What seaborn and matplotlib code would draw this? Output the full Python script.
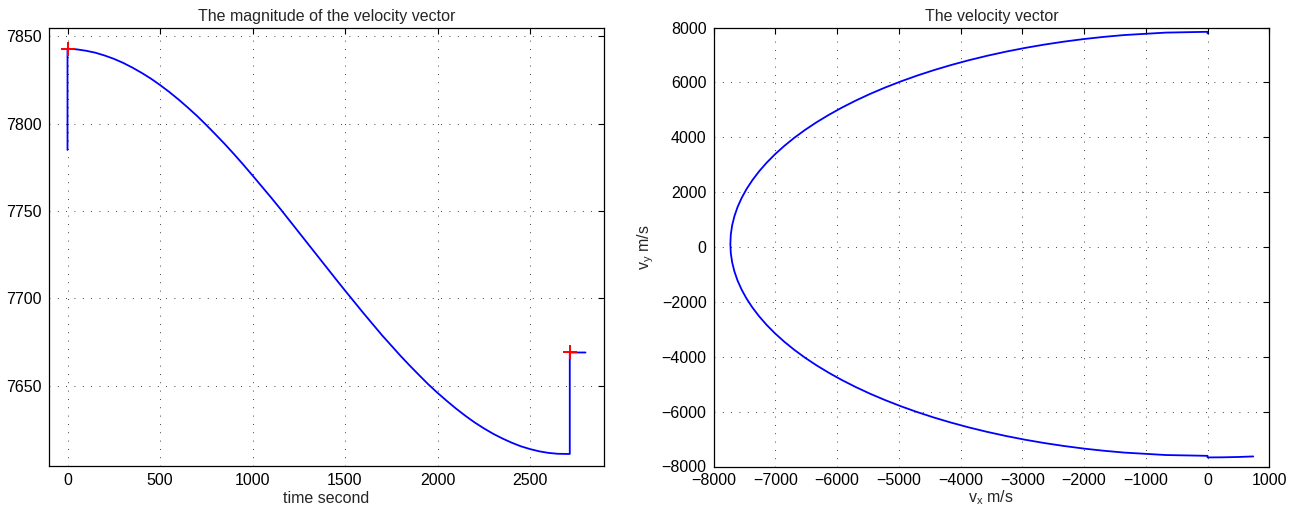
import matplotlib
matplotlib.use("Agg")
import matplotlib.pyplot as plt
import seaborn as sns
import pandas as pd

# Speed history: burn at t=0, coast from perigee to apogee, second burn
time_s = [0, 0, 50, 100, 150, 200, 250, 300, 350, 400, 450, 500, 550, 600,
          650, 700, 750, 800, 850, 900, 950, 1000, 1050, 1100, 1150, 1200,
          1250, 1300, 1350, 1400, 1450, 1500, 1550, 1600, 1650, 1700, 1750,
          1800, 1850, 1900, 1950, 2000, 2050, 2100, 2150, 2200, 2250, 2300,
          2350, 2400, 2450, 2500, 2550, 2600, 2650, 2700, 2715, 2715, 2800]
speed = [7785, 7843.0, 7842.6, 7841.8, 7840.7, 7839.1, 7837.2, 7834.9,
         7832.2, 7829.2, 7825.9, 7822.2, 7818.2, 7813.9, 7809.3, 7804.5,
         7799.3, 7793.9, 7788.4, 7782.6, 7776.6, 7770.4, 7764.1, 7757.8,
         7751.3, 7744.6, 7737.9, 7731.2, 7724.5, 7717.8, 7711.1, 7704.5,
         7698.0, 7691.5, 7685.2, 7678.9, 7673.0, 7667.1, 7661.5, 7656.1,
         7650.8, 7645.9, 7641.3, 7636.9, 7632.8, 7629.0, 7625.6, 7622.5,
         7619.8, 7617.4, 7615.3, 7613.7, 7612.4, 7611.5, 7611.0, 7610.9,
         7610.9, 7669, 7669]

# Instants of the two impulses
burn_t = [0, 2715]
burn_v = [7843, 7669]

# Velocity components along the same trajectory (hodograph)
vx = [0, 0, -674, -1342, -1672, -2000, -2324, -2643, -2957, -3266, -3568,
      -3864, -4152, -4432, -4704, -4967, -5220, -5464, -5697, -5919, -6130,
      -6330, -6517, -6692, -6854, -7003, -7139, -7261, -7369, -7464, -7544,
      -7610, -7661, -7698, -7720, -7727,
      -7720, -7698, -7661, -7610, -7544, -7464, -7369, -7261, -7139, -7003,
      -6854, -6692, -6517, -6330, -6130, -5919, -5697, -5464, -5220, -4967,
      -4704, -4432, -4152, -3864, -3568, -3266, -2957, -2643, -2324, -2000,
      -1672, -1342, -674, 0, 0, 250, 500, 740]
vy = [7785, 7843, 7814, 7726, 7660, 7580, 7485, 7377, 7255, 7119, 6970,
      6808, 6633, 6446, 6246, 6035, 5813, 5580, 5336, 5083, 4820,
      4548, 4268, 3980, 3684, 3382, 3073, 2759, 2440, 2116, 1788,
      1458, 1125, 790, 453, 116,
      -221, -558, -893, -1226, -1556, -1884, -2208, -2527, -2841, -3150,
      -3452, -3748, -4036, -4316, -4588, -4851, -5104, -5348, -5581, -5803,
      -6014, -6214, -6401, -6576, -6738, -6887, -7023, -7145, -7253, -7348,
      -7428, -7494, -7582, -7611, -7669, -7665, -7653, -7633]

mag_df = pd.DataFrame({"t": time_s, "v": speed})
hodo_df = pd.DataFrame({"vx": vx, "vy": vy})
burn_df = pd.DataFrame({"t": burn_t, "v": burn_v})

sns.set_style("white")
plt.rcParams["font.family"] = ["Liberation Sans", "DejaVu Sans"]
plt.rcParams["font.size"] = 11.5
plt.rcParams["axes.unicode_minus"] = True

fig = plt.figure(figsize=(12.97, 5.15), dpi=100)
W, H = 1297, 515
ax1 = fig.add_axes([49 / W, (H - 466) / H, 555 / W, 438.3 / H])
ax2 = fig.add_axes([713.5 / W, (H - 466.5) / H, 555.8 / W, 439 / H])

blue = (0, 0, 1)

sns.lineplot(data=mag_df, x="t", y="v", ax=ax1, sort=False, estimator=None,
             color=blue, linewidth=1.3)
sns.scatterplot(data=burn_df, x="t", y="v", ax=ax1, marker="+", color="red",
                s=90, linewidth=1.4, zorder=5)
ax1.set_xlim(-100, 2900)
ax1.set_ylim(7604, 7855)
ax1.set_xticks(range(0, 2501, 500))
ax1.set_yticks(range(7650, 7851, 50))
ax1.set_title("The magnitude of the velocity vector", fontsize=11.5, pad=5)
ax1.set_xlabel("time second", fontsize=11.5, labelpad=2)
ax1.set_ylabel("")

sns.lineplot(data=hodo_df, x="vx", y="vy", ax=ax2, sort=False, estimator=None,
             color=blue, linewidth=1.3)
ax2.set_xlim(-8000, 1000)
ax2.set_ylim(-8000, 8000)
ax2.set_xticks(range(-8000, 1001, 1000))
ax2.set_yticks(range(-8000, 8001, 2000))
ax2.set_title("The velocity vector", fontsize=11.5, pad=5)
ax2.set_xlabel(r"$\mathregular{v_x}$ m/s", fontsize=11.5, labelpad=0)
ax2.set_ylabel(r"$\mathregular{v_y}$ m/s", fontsize=11.5, labelpad=4)

for ax in (ax1, ax2):
    ax.grid(True, color="black", linestyle=(0, (1, 9)), linewidth=0.6)
    ax.tick_params(direction="in", top=True, right=True, length=4.5,
                   width=0.8, labelsize=11.5, pad=5, colors="black")
    for sp in ax.spines.values():
        sp.set_visible(True)
        sp.set_color("black")
        sp.set_linewidth(0.9)
    ax.set_axisbelow(True)

fig.savefig("out.png", dpi=100)
